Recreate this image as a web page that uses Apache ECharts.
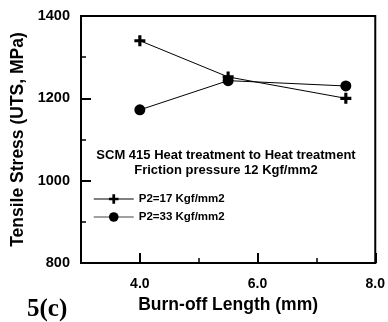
<!DOCTYPE html>
<html><head><meta charset="utf-8">
<script src="https://cdn.jsdelivr.net/npm/echarts@6/dist/echarts.min.js"></script>
<style>html,body{margin:0;padding:0;background:#fff}#c{width:388px;height:322px}</style>
</head><body><div id="c"></div>
<script>
var burnOff = [4.0, 5.5, 7.5];
var utsP17 = [1340, 1252, 1200];
var utsP33 = [1172, 1243, 1230];
var seriesNames = ['P2=17 Kgf/mm2', 'P2=33 Kgf/mm2'];
var xMajorTicks = [4, 6, 8];
var xMinorTicks = [5, 7];
var noteLines = ['SCM 415 Heat treatment to Heat treatment', 'Friction pressure 12 Kgf/mm2'];

var FONT = '"Liberation Sans", Arial, sans-serif';
var plusPath = 'path://M5,0H9V5H14V9H9V14H5V9H0V5H5Z';
function pairs(xs, ys){ return xs.map(function(x,i){ return [x, ys[i]]; }); }

var chart = echarts.init(document.getElementById('c'), null, {renderer:'canvas'});
chart.setOption({
  animation: false,
  grid: {left: 81, top: 16, right: 9, bottom: 59, show: true, borderColor: '#000', borderWidth: 2, backgroundColor: 'transparent'},
  xAxis: [{
    type: 'value', min: 3, max: 8,
    name: 'Burn-off Length (mm)', nameLocation: 'middle', nameGap: 30,
    nameTextStyle: {fontFamily: FONT, fontWeight: 'bold', fontSize: 17.5, color: '#000'},
    axisLine: {show: true, lineStyle: {color: '#000', width: 2}},
    axisTick: {show: true, inside: true, length: 10, lineStyle: {color: '#000', width: 2}, customValues: xMajorTicks},
    axisLabel: {show: true, margin: 14, fontFamily: FONT, fontWeight: 'bold', fontSize: 14, color: '#000', customValues: xMajorTicks,
      formatter: function(v){ return v.toFixed(1); }},
    splitLine: {show: false}
  }, {
    type: 'value', min: 3, max: 8, position: 'bottom',
    axisLine: {show: false},
    axisTick: {show: true, inside: true, length: 5, lineStyle: {color: '#000', width: 1.5}, customValues: xMinorTicks},
    axisLabel: {show: false},
    splitLine: {show: false}
  }],
  yAxis: {
    type: 'value', min: 800, max: 1400, interval: 200,
    name: 'Tensile Stress (UTS, MPa)', nameLocation: 'middle', nameGap: 54,
    nameTextStyle: {fontFamily: FONT, fontWeight: 'bold', fontSize: 17.5, color: '#000'},
    axisLine: {show: true, lineStyle: {color: '#000', width: 2}},
    axisTick: {show: true, inside: true, length: 10, lineStyle: {color: '#000', width: 2}},
    minorTick: {show: true, splitNumber: 2, length: 5, lineStyle: {color: '#000', width: 1.5}},
    axisLabel: {margin: 11, fontFamily: FONT, fontWeight: 'bold', fontSize: 14.5, color: '#000',
      formatter: function(v){ return String(v); }},
    splitLine: {show: false}
  },
  legend: {
    orient: 'vertical', left: 88, top: 188, itemWidth: 40, itemHeight: 12, itemGap: 6,
    textStyle: {fontFamily: FONT, fontWeight: 'bold', fontSize: 11.5, color: '#000'},
    data: [
      {name: seriesNames[0], lineStyle: {color: '#000', width: 1}},
      {name: seriesNames[1], lineStyle: {color: '#808080', width: 1.5}}
    ]
  },
  series: [{
    name: seriesNames[0], type: 'line', data: pairs(burnOff, utsP17),
    symbol: plusPath, symbolSize: 11, showAllSymbol: true,
    lineStyle: {color: '#000', width: 1}, itemStyle: {color: '#000'}
  }, {
    name: seriesNames[1], type: 'line', data: pairs(burnOff, utsP33),
    symbol: 'circle', symbolSize: 11, showAllSymbol: true,
    lineStyle: {color: '#000', width: 1}, itemStyle: {color: '#000'}
  }],
  graphic: [{
    type: 'text', x: 226, y: 148,
    style: {text: noteLines.join('\n'), align: 'center', textAlign: 'center', fontFamily: FONT, fontWeight: 'bold', fontSize: 13, lineHeight: 15, fill: '#000'}
  }, {
    type: 'text', left: 27, top: 297,
    style: {text: '5(c)', fontFamily: '"Liberation Serif", "Times New Roman", serif', fontWeight: 'bold', fontSize: 25, fill: '#000'}
  }]
});
</script></body></html>
